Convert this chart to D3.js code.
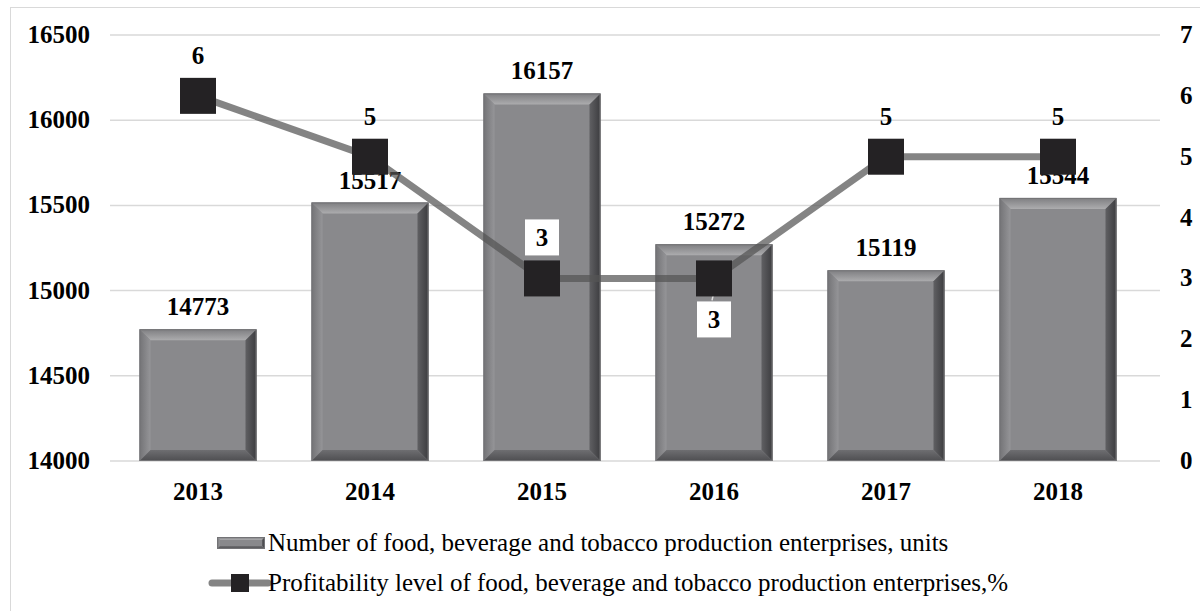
<!DOCTYPE html>
<html>
<head>
<meta charset="utf-8">
<script src="https://cdn.jsdelivr.net/npm/d3@7"></script>
<style>
  body { margin: 0; background: #fff; }
  text { font-family: "Liberation Serif", "Times New Roman", serif; }
</style>
</head>
<body>
<div id="chart"></div>
<script>
// data
const years = ["2013", "2014", "2015", "2016", "2017", "2018"];
const enterprises = [14773, 15517, 16157, 15272, 15119, 15544];
const profitability = [6, 5, 3, 3, 5, 5];
const leftTicks = [14000, 14500, 15000, 15500, 16000, 16500];
const rightTicks = [0, 1, 2, 3, 4, 5, 6, 7];
const legendLabels = [
  "Number of food, beverage and tobacco production enterprises, units",
  "Profitability level of food, beverage and tobacco production enterprises,%"
];

const W = 1200, H = 611;
const svg = d3.select("#chart").append("svg").attr("width", W).attr("height", H);
const defs = svg.append("defs");

// soft gradients for the bevel faces
function grad(id, x2, y2, c1, c2) {
  const g = defs.append("linearGradient").attr("id", id)
    .attr("x1", 0).attr("y1", 0).attr("x2", x2).attr("y2", y2);
  g.append("stop").attr("offset", "0%").attr("stop-color", c1);
  g.append("stop").attr("offset", "100%").attr("stop-color", c2);
}
grad("gTop", 0, 1, "#7e7e81", "#acacae");
grad("gLeft", 1, 0, "#737376", "#959598");
grad("gRight", 1, 0, "#606063", "#3c3c3f");
grad("gBottom", 0, 1, "#6e6e71", "#4e4e51");

// outer frame
svg.append("rect").attr("x", 10.5).attr("y", 7.5).attr("width", W).attr("height", H)
  .attr("fill", "none").attr("stroke", "#d9d9d9");

const x = d3.scaleBand().domain(years).range([112, 1144]).paddingInner(0.32).paddingOuter(0.16);
const yL = d3.scaleLinear().domain([14000, 16500]).range([461, 35]);
const yR = d3.scaleLinear().domain([0, 7]).range([461, 35]);

// gridlines
svg.append("g").selectAll("line").data(leftTicks).join("line")
  .attr("x1", 110).attr("x2", 1160)
  .attr("y1", d => yL(d)).attr("y2", d => yL(d))
  .attr("stroke", "#d9d9d9").attr("stroke-width", 1.5);

// left axis labels
svg.append("g").selectAll("text").data(leftTicks).join("text")
  .attr("x", 90).attr("y", d => yL(d) + 8)
  .attr("text-anchor", "end").attr("font-size", 25).attr("font-weight", "bold")
  .text(d => d);

// right axis labels
svg.append("g").selectAll("text").data(rightTicks).join("text")
  .attr("x", 1180).attr("y", d => yR(d) + 8)
  .attr("font-size", 25).attr("font-weight", "bold")
  .text(d => d);

// x labels
svg.append("g").selectAll("text").data(years).join("text")
  .attr("x", d => x(d) + x.bandwidth() / 2).attr("y", 500)
  .attr("text-anchor", "middle").attr("font-size", 25).attr("font-weight", "bold")
  .text(d => d);

// bevelled bar
function bevel(g, bx, by, bw, bh, b) {
  g.append("rect").attr("x", bx).attr("y", by).attr("width", bw).attr("height", bh).attr("fill", "#89898c");
  g.append("polygon").attr("points", [[bx, by], [bx + bw, by], [bx + bw - b, by + b], [bx + b, by + b]].join(" "))
    .attr("fill", "url(#gTop)");
  g.append("polygon").attr("points", [[bx, by], [bx + b, by + b], [bx + b, by + bh - b], [bx, by + bh]].join(" "))
    .attr("fill", "url(#gLeft)");
  g.append("polygon").attr("points", [[bx + bw, by], [bx + bw, by + bh], [bx + bw - b, by + bh - b], [bx + bw - b, by + b]].join(" "))
    .attr("fill", "url(#gRight)");
  g.append("polygon").attr("points", [[bx, by + bh], [bx + b, by + bh - b], [bx + bw - b, by + bh - b], [bx + bw, by + bh]].join(" "))
    .attr("fill", "url(#gBottom)");
  g.append("rect").attr("x", bx + 0.5).attr("y", by + 0.5).attr("width", bw - 1).attr("height", bh - 1)
    .attr("fill", "none").attr("stroke", "#737376").attr("stroke-width", 1);
}

const bars = svg.append("g");
years.forEach((yr, i) => {
  const bx = x(yr), by = yL(enterprises[i]);
  bevel(bars.append("g"), bx, by, x.bandwidth(), yL(14000) - by, 11);
});

// bar value labels
svg.append("g").selectAll("text").data(years).join("text")
  .attr("x", d => x(d) + x.bandwidth() / 2)
  .attr("y", (d, i) => yL(enterprises[i]) - 14)
  .attr("text-anchor", "middle").attr("font-size", 25).attr("font-weight", "bold")
  .text((d, i) => enterprises[i]);

// profitability line
const cx = d => x(d) + x.bandwidth() / 2;
const pts = years.map((d, i) => [cx(d), yR(profitability[i])]);
svg.append("path").attr("d", d3.line()(pts))
  .attr("fill", "none").attr("stroke", "#555").attr("stroke-opacity", 0.72).attr("stroke-width", 7);

// leader line for 2016 label
svg.append("line").attr("x1", pts[3][0] + 4).attr("y1", pts[3][1] - 4)
  .attr("x2", pts[3][0] - 2).attr("y2", pts[3][1] + 22)
  .attr("stroke", "#e0e0e0").attr("stroke-width", 1.5);

svg.append("g").selectAll("rect").data(pts).join("rect")
  .attr("x", d => d[0] - 18).attr("y", d => d[1] - 18).attr("width", 36).attr("height", 36)
  .attr("fill", "#242224");

// line value labels (2015 and 2016 sit on white boxes)
const lab = svg.append("g");
years.forEach((yr, i) => {
  const [px, py] = pts[i];
  let ly = py - 32;
  if (i === 3) ly = py + 50;
  if (i === 2 || i === 3) {
    lab.append("rect").attr("x", px - 17).attr("y", ly - 27).attr("width", 34).attr("height", 36).attr("fill", "#fff");
  }
  lab.append("text").attr("x", px).attr("y", ly)
    .attr("text-anchor", "middle").attr("font-size", 25).attr("font-weight", "bold")
    .text(profitability[i]);
});

// legend
const lg = svg.append("g");
bevel(lg.append("g"), 217, 537, 48, 12, 3);
lg.append("line").attr("x1", 212).attr("x2", 268).attr("y1", 583).attr("y2", 583)
  .attr("stroke", "#555").attr("stroke-opacity", 0.72).attr("stroke-width", 7).attr("stroke-linecap", "round");
lg.append("rect").attr("x", 231).attr("y", 574).attr("width", 18).attr("height", 18).attr("fill", "#242224");
lg.selectAll("text").data(legendLabels).join("text")
  .attr("x", 268).attr("y", (d, i) => 551 + i * 40)
  .attr("font-size", 25)
  .text(d => d);
</script>
</body>
</html>
